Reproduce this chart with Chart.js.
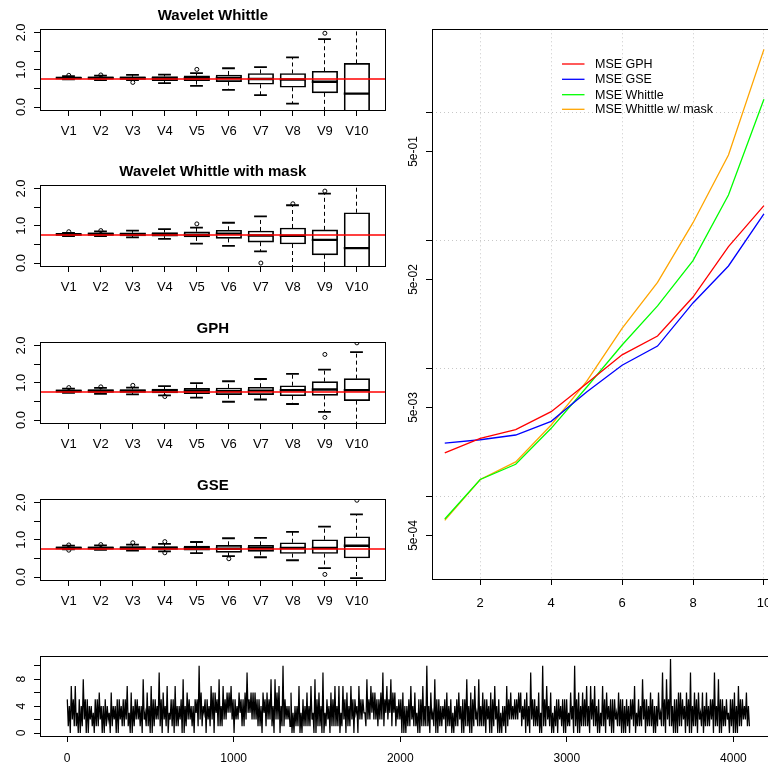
<!DOCTYPE html>
<html><head><meta charset="utf-8">
<script src="https://cdn.jsdelivr.net/npm/chart.js@4.4.1/dist/chart.umd.min.js"></script>
<style>
html,body{margin:0;padding:0;background:#fff;width:768px;height:769px;overflow:hidden;position:relative}
canvas{position:absolute}
</style></head><body>
<canvas id="c1" width="426" height="150" style="left:0;top:0"></canvas>
<canvas id="c2" width="426" height="150" style="left:0;top:156px"></canvas>
<canvas id="c3" width="426" height="150" style="left:0;top:313px"></canvas>
<canvas id="c4" width="426" height="150" style="left:0;top:470px"></canvas>
<canvas id="cR" width="400" height="620" style="left:400px;top:0"></canvas>
<canvas id="cT" width="800" height="129" style="left:0;top:640px"></canvas>
<script>
// ---------------- DATA ----------------
const categories = ['V1','V2','V3','V4','V5','V6','V7','V8','V9','V10'];
const refValue = 0.75;
const boxTickVals = [0, 0.5, 1, 1.5, 2];
const boxTickText = ['0.0', '', '1.0', '', '2.0'];

// Wavelet Whittle
const wwLow  = [0.74, 0.72, 0.72, 0.64, 0.57, 0.46, 0.32, 0.09, -0.30, -1.50];
const wwQ1   = [0.76, 0.75, 0.74, 0.71, 0.71, 0.68, 0.61, 0.53, 0.38, -0.50];
const wwMed  = [0.78, 0.78, 0.78, 0.77, 0.77, 0.78, 0.75, 0.74, 0.68, 0.36];
const wwQ3   = [0.80, 0.81, 0.81, 0.82, 0.84, 0.86, 0.90, 0.90, 0.96, 1.17];
const wwHigh = [0.83, 0.84, 0.86, 0.87, 0.91, 1.04, 1.07, 1.33, 1.82, 2.50];
const wwOutX = [1, 2, 3, 5, 9];
const wwOutY = [0.85, 0.86, 0.66, 1.01, 1.98];

// Wavelet Whittle with mask
const wmLow  = [0.72, 0.72, 0.69, 0.65, 0.52, 0.46, 0.31, -0.30, -0.15, -1.50];
const wmQ1   = [0.74, 0.74, 0.73, 0.72, 0.70, 0.66, 0.56, 0.51, 0.22, -0.30];
const wmMed  = [0.77, 0.78, 0.77, 0.77, 0.76, 0.79, 0.74, 0.73, 0.62, 0.40];
const wmQ3   = [0.79, 0.81, 0.81, 0.82, 0.84, 0.88, 0.86, 0.94, 0.89, 1.35];
const wmHigh = [0.81, 0.85, 0.87, 0.91, 0.95, 1.08, 1.25, 1.55, 1.86, 2.50];
const wmOutX = [1, 2, 5, 7, 8, 9];
const wmOutY = [0.84, 0.87, 1.05, 0.00, 1.59, 1.93];

// GPH
const gpLow  = [0.73, 0.70, 0.69, 0.66, 0.60, 0.49, 0.55, 0.43, 0.22, -0.30];
const gpQ1   = [0.75, 0.74, 0.74, 0.73, 0.71, 0.68, 0.68, 0.65, 0.66, 0.52];
const gpMed  = [0.78, 0.78, 0.78, 0.79, 0.78, 0.77, 0.79, 0.80, 0.82, 0.80];
const gpQ3   = [0.81, 0.82, 0.82, 0.83, 0.85, 0.86, 0.88, 0.92, 1.03, 1.11];
const gpHigh = [0.84, 0.86, 0.87, 0.91, 0.99, 1.04, 1.10, 1.24, 1.35, 1.82];
const gpOutX = [1, 2, 3, 4, 9, 9, 10];
const gpOutY = [0.87, 0.89, 0.93, 0.63, 1.76, 0.07, 2.07];

// GSE
const gsLow  = [0.74, 0.73, 0.71, 0.69, 0.64, 0.56, 0.53, 0.45, 0.24, -0.03];
const gsQ1   = [0.76, 0.75, 0.74, 0.74, 0.72, 0.66, 0.69, 0.63, 0.63, 0.51];
const gsMed  = [0.78, 0.78, 0.78, 0.78, 0.77, 0.76, 0.77, 0.78, 0.78, 0.84];
const gsQ3   = [0.81, 0.81, 0.82, 0.82, 0.83, 0.85, 0.85, 0.92, 1.00, 1.08];
const gsHigh = [0.84, 0.85, 0.87, 0.89, 0.94, 1.04, 1.05, 1.21, 1.35, 1.68];
const gsOutX = [1, 1, 2, 3, 4, 4, 6, 9, 10];
const gsOutY = [0.86, 0.72, 0.87, 0.92, 0.95, 0.65, 0.49, 0.07, 2.06];

// MSE panel
const lags = [1, 2, 3, 4, 5, 6, 7, 8, 9, 10];
const mseGPH     = [2.21e-3, 2.87e-3, 3.36e-3, 4.64e-3, 7.7e-3, 1.29e-2, 1.81e-2, 3.65e-2, 9.03e-2, 0.189];
const mseGSE     = [2.64e-3, 2.80e-3, 3.05e-3, 3.90e-3, 6.6e-3, 1.07e-2, 1.51e-2, 3.28e-2, 6.38e-2, 0.163];
const mseWhittle = [6.73e-4, 1.37e-3, 1.80e-3, 3.44e-3, 7.2e-3, 1.54e-2, 3.11e-2, 7.02e-2, 0.229, 1.28];
const mseMask    = [6.57e-4, 1.37e-3, 1.88e-3, 3.65e-3, 8.0e-3, 2.08e-2, 4.75e-2, 0.139, 0.47, 3.14];
const mseLabels  = ['MSE GPH', 'MSE GSE', 'MSE Whittle', 'MSE Whittle w/ mask'];
const mseXTicks  = [2, 4, 6, 8, 10];
const mseTickVals = [1, 0.5, 0.1, 0.05, 0.01, 0.005, 0.001, 0.0005];
const mseTickText = ['', '5e-01', '', '5e-02', '', '5e-03', '', '5e-04'];
const mseGridVals = [1, 0.1, 0.01, 0.001];

// Time series (a=10, b=11).
// tsPeaks alternates column highs / lows every 2 px; band strings hold in-between readings.
const tsLength = 4096;
const tsPeaks =
  "5071705180524051604140624051527061524081607152906172507140816240" + "51" +
  "a140517061817263705261529362615061628082" + "71a2416041705161708160915061 71" +
  "7170617050725182726152937383625060417160" + "5171a061805140615041605180617 1" +
  "8160506170504072625261406091516 0a171604" + "051505160a061617071705170615051" +
  "6050505171518051604161908 1b05061506091606161615091805150506071526" + "1";
const tsBandHi =
  "4534543545" + "3454534543" + "4545435454" + "5456546545" + "6545656545" +
  "5464543434" + "4354345435" + "4545356565" + "5645454354" + "4354543545" +
  "4534545434" + "5456545435" + "4354534545" + "4543545354" + "4534545435" +
  "5456454534" + "4545435454" + "4";
const tsBandLo =
  "1210201120" + "2102110212" + "1021201120" + "2132322312" + "3223132213" +
  "2120120101" + "1201021102" + "1232323221" + "2112012101" + "1201210120" +
  "1021120201" + "1223212101" + "2012012101" + "1210120210" + "1201211021" +
  "2101210120" + "1210121012" + "1";
const tsXTicks = [0, 1000, 2000, 3000, 4000];
const tsYTicks = [0, 2, 4, 6, 8, 10];
const tsYText  = ['0', '', '4', '', '8', ''];

// ---------------- HELPERS ----------------
const FONT = '"Liberation Sans", Arial, Helvetica, sans-serif';
Chart.defaults.font.family = FONT;
Chart.defaults.color = '#000';

function seg(ctx, x1, y1, x2, y2) { ctx.beginPath(); ctx.moveTo(x1, y1); ctx.lineTo(x2, y2); ctx.stroke(); }
const crisp = v => Math.round(v - 0.5) + 0.5;
const digits = s => s.replace(/ /g, '').split('').map(ch => parseInt(ch, 16));

function tickAxis(type, min, max, vals, fitSize, isX) {
  return {
    type, min, max, offset: false,
    afterBuildTicks: s => { s.ticks = vals.map(v => ({ value: v })); },
    afterFit: s => { if (isX) s.height = fitSize; else s.width = fitSize; },
    ticks: { display: false },
    grid: { display: true, drawOnChartArea: false, drawTicks: true, tickLength: 6, tickWidth: 1, tickColor: '#000', offset: false },
    border: { display: false }
  };
}

function drawBoxExtras(chart, b) {
  const { ctx, chartArea: a, scales: { x, y } } = chart;
  ctx.save();
  ctx.beginPath(); ctx.rect(a.left, a.top, a.right - a.left, a.bottom - a.top); ctx.clip();
  ctx.strokeStyle = '#000';
  const boxHalf = 12.75, capHalf = 6.4;
  for (let i = 0; i < categories.length; i++) {
    const px = crisp(x.getPixelForValue(i + 1));
    const pLow = y.getPixelForValue(b.low[i]), pQ1 = y.getPixelForValue(b.q1[i]);
    const pMed = y.getPixelForValue(b.med[i]), pQ3 = y.getPixelForValue(b.q3[i]);
    const pHigh = y.getPixelForValue(b.high[i]);
    ctx.lineWidth = 1; ctx.setLineDash([4, 3]);
    seg(ctx, px, pQ3, px, pHigh); seg(ctx, px, pQ1, px, pLow);
    ctx.setLineDash([]); ctx.lineWidth = 1.8;
    seg(ctx, px - capHalf, pHigh, px + capHalf, pHigh);
    seg(ctx, px - capHalf, pLow, px + capHalf, pLow);
    ctx.lineWidth = 2.4;
    seg(ctx, px - boxHalf, pMed, px + boxHalf, pMed);
  }
  ctx.restore();
}

function rPlugin(cfg) {
  return {
    id: 'rstyle',
    beforeDatasetsDraw(chart) {
      if (!cfg.grid) return;
      const { ctx, chartArea: a, scales: { x, y } } = chart;
      ctx.save(); ctx.strokeStyle = '#c8c8c8'; ctx.lineWidth = 1; ctx.setLineDash([1, 3]);
      cfg.grid.x.forEach(v => { const p = crisp(x.getPixelForValue(v)); seg(ctx, p, a.top, p, a.bottom); });
      cfg.grid.y.forEach(v => { const p = crisp(y.getPixelForValue(v)); seg(ctx, a.left, p, a.right, p); });
      ctx.restore();
    },
    afterDatasetDraw(chart, args) {
      if (cfg.box && args.index === cfg.box.index) drawBoxExtras(chart, cfg.box);
    },
    afterDraw(chart) {
      const { ctx, chartArea: a, scales: { x, y } } = chart;
      ctx.save();
      ctx.strokeStyle = '#000'; ctx.lineWidth = 1; ctx.setLineDash([]);
      const l = crisp(a.left), t = crisp(a.top), r = crisp(a.right), bt = crisp(a.bottom);
      ctx.strokeRect(l, t, r - l, bt - t);
      ctx.fillStyle = '#000';
      ctx.textAlign = 'center'; ctx.textBaseline = 'alphabetic';
      if (cfg.title) {
        ctx.font = 'bold 15px ' + FONT;
        ctx.fillText(cfg.title, (a.left + a.right) / 2, a.top - 10);
      }
      ctx.font = cfg.fontSize + 'px ' + FONT;
      cfg.xLabels.forEach(o => { if (o.t) ctx.fillText(o.t, x.getPixelForValue(o.v), a.bottom + cfg.xLabOff); });
      ctx.font = (cfg.yFontSize || cfg.fontSize) + 'px ' + FONT;
      cfg.yLabels.forEach(o => {
        if (!o.t) return;
        ctx.save(); ctx.translate(a.left - cfg.yLabOff, y.getPixelForValue(o.v)); ctx.rotate(-Math.PI / 2);
        ctx.fillText(o.t, 0, 0); ctx.restore();
      });
      if (cfg.legend) {
        const L = cfg.legend;
        ctx.font = L.fontSize + 'px ' + FONT;
        ctx.textAlign = 'left'; ctx.textBaseline = 'middle';
        chart.data.datasets.forEach((ds, i) => {
          ctx.strokeStyle = ds.borderColor; ctx.lineWidth = 1.3;
          seg(ctx, L.x0, L.ys[i], L.x1, L.ys[i]);
          ctx.fillText(ds.label, L.tx, L.ys[i] + 0.5);
        });
      }
      ctx.restore();
    }
  };
}

const baseOpts = { responsive: false, animation: false, events: [] };

function makeBoxChart(id, titleText, st) {
  const xMin = 0.1, xMax = 10.9;
  new Chart(document.getElementById(id), {
    type: 'bar',
    data: { datasets: [
      { type: 'line', data: [{ x: xMin, y: refValue }, { x: xMax, y: refValue }], borderColor: '#ff0000', borderWidth: 1.5, pointRadius: 0, order: 0 },
      { type: 'scatter', data: st.outX.map((v, i) => ({ x: v, y: st.outY[i] })), pointRadius: 2, pointBorderWidth: 1, borderColor: '#000', backgroundColor: 'rgba(0,0,0,0)', pointStyle: 'circle', order: 1 },
      { type: 'bar', data: categories.map((c, i) => ({ x: i + 1, y: [st.q1[i], st.q3[i]] })), backgroundColor: 'rgba(255,255,255,0)', borderColor: '#000', borderWidth: 1, borderSkipped: false, barThickness: 25.5, order: 2 }
    ] },
    options: Object.assign({}, baseOpts, {
      layout: { autoPadding: false, padding: { top: 29.5, left: 0, right: 40.3, bottom: 0 } },
      plugins: { legend: { display: false }, tooltip: { enabled: false }, title: { display: false } },
      scales: {
        x: tickAxis('linear', xMin, xMax, categories.map((c, i) => i + 1), 40, true),
        y: tickAxis('linear', -0.08, 2.08, boxTickVals, 40, false)
      }
    }),
    plugins: [rPlugin({
      title: titleText,
      box: Object.assign({ index: 2 }, st),
      xLabels: categories.map((c, i) => ({ v: i + 1, t: c })),
      yLabels: boxTickVals.map((v, i) => ({ v, t: boxTickText[i] })),
      xLabOff: 25, yLabOff: 15, fontSize: 13
    })]
  });
}

makeBoxChart('c1', 'Wavelet Whittle', { low: wwLow, q1: wwQ1, med: wwMed, q3: wwQ3, high: wwHigh, outX: wwOutX, outY: wwOutY });
makeBoxChart('c2', 'Wavelet Whittle with mask', { low: wmLow, q1: wmQ1, med: wmMed, q3: wmQ3, high: wmHigh, outX: wmOutX, outY: wmOutY });
makeBoxChart('c3', 'GPH', { low: gpLow, q1: gpQ1, med: gpMed, q3: gpQ3, high: gpHigh, outX: gpOutX, outY: gpOutY });
makeBoxChart('c4', 'GSE', { low: gsLow, q1: gsQ1, med: gsMed, q3: gsQ3, high: gsHigh, outX: gsOutX, outY: gsOutY });

// MSE chart
const mseSeries = [mseGPH, mseGSE, mseWhittle, mseMask];
const mseColors = ['#ff0000', '#0000ff', '#00ff00', '#ffa500'];
new Chart(document.getElementById('cR'), {
  type: 'line',
  data: { datasets: mseSeries.map((arr, k) => ({
    label: mseLabels[k], data: lags.map((x, i) => ({ x, y: arr[i] })),
    borderColor: mseColors[k], borderWidth: 1.3, pointRadius: 0, tension: 0, fill: false
  })) },
  options: Object.assign({}, baseOpts, {
    layout: { autoPadding: false, padding: { top: 29.3, left: 0, right: 23.3, bottom: 0 } },
    plugins: { legend: { display: false }, tooltip: { enabled: false }, title: { display: false } },
    scales: {
      x: tickAxis('linear', 0.64, 10.36, mseXTicks, 41, true),
      y: tickAxis('logarithmic', 2.287e-4, 4.507, mseTickVals, 32, false)
    }
  }),
  plugins: [rPlugin({
    grid: { x: mseXTicks, y: mseGridVals },
    xLabels: mseXTicks.map(v => ({ v, t: String(v) })),
    yLabels: mseTickVals.map((v, i) => ({ v, t: mseTickText[i] })),
    xLabOff: 27.5, yLabOff: 15, fontSize: 13, yFontSize: 12,
    legend: { x0: 162, x1: 184.5, tx: 195, ys: [64, 79.3, 94.7, 109.3], fontSize: 12.5 }
  })]
});

// Time series chart: per 4 px -> column high, band low, band high, column low
const peaks = digits(tsPeaks), bandHi = digits(tsBandHi), bandLo = digits(tsBandLo);
const tsValues = [];
for (let j = 0; j * 2 + 1 < peaks.length && j < bandHi.length; j++) {
  tsValues.push(peaks[2 * j], bandLo[j], bandHi[j], peaks[2 * j + 1]);
}
const tsStep = (tsLength - 1) / (tsValues.length - 1);
new Chart(document.getElementById('cT'), {
  type: 'line',
  data: { datasets: [{ data: tsValues.map((v, k) => ({ x: 1 + k * tsStep, y: v })), borderColor: '#000', borderWidth: 1.25, pointRadius: 0, tension: 0, fill: false }] },
  options: Object.assign({}, baseOpts, {
    layout: { autoPadding: false, padding: { top: 16, left: 0, right: 23.3, bottom: 0 } },
    plugins: { legend: { display: false }, tooltip: { enabled: false }, title: { display: false } },
    scales: {
      x: tickAxis('linear', -162.8, 4259.8, tsXTicks, 33, true),
      y: tickAxis('linear', -0.44, 11.44, tsYTicks, 40, false)
    }
  }),
  plugins: [rPlugin({
    xLabels: tsXTicks.map(v => ({ v, t: String(v) })),
    yLabels: tsYTicks.map((v, i) => ({ v, t: tsYText[i] })),
    xLabOff: 26, yLabOff: 15, fontSize: 12
  })]
});
</script>
</body></html>
